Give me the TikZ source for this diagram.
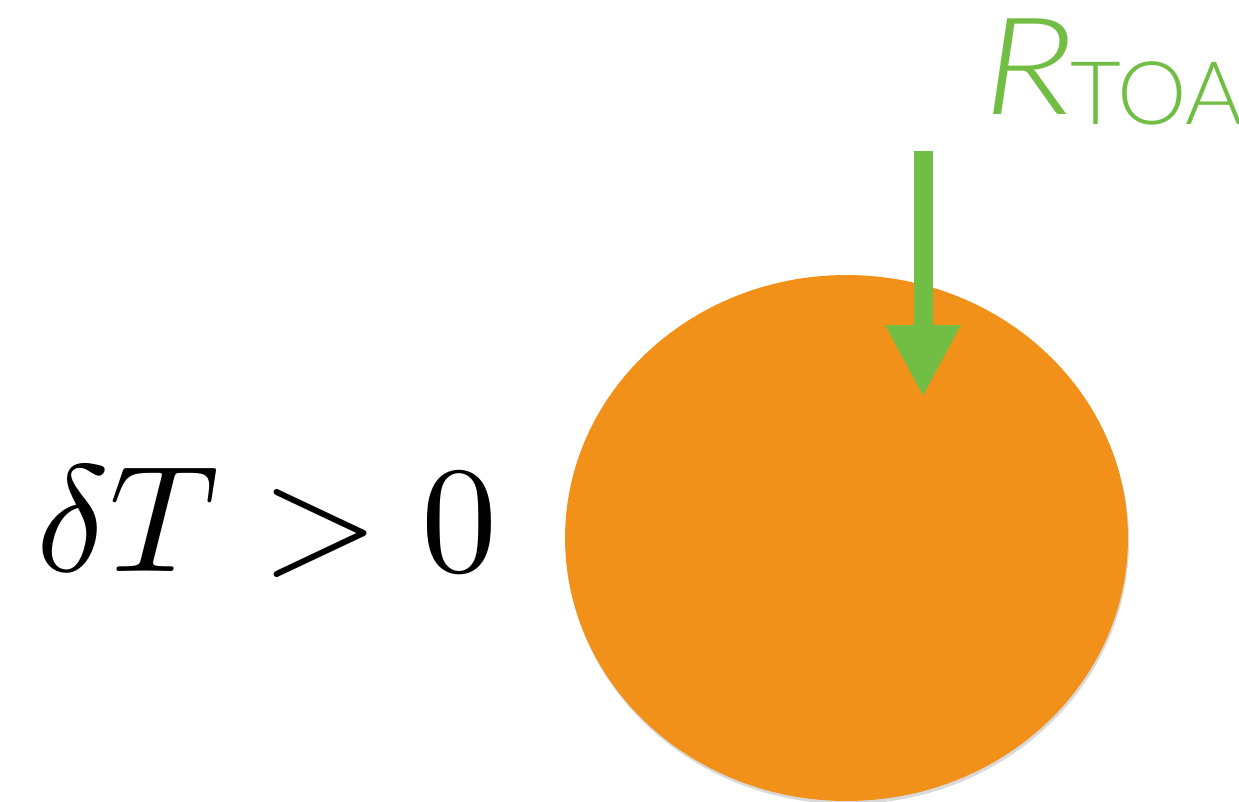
\documentclass[tikz,border=0pt]{standalone}
\usepackage{fontspec}
\newfontfamily\toafont{Lato Light}
\usetikzlibrary{arrows.meta,shapes.geometric,shadows}
\definecolor{planetorange}{RGB}{242,145,26}
\definecolor{fluxgreen}{RGB}{114,190,68}

\begin{document}
\begin{tikzpicture}[x=0.02cm,y=0.02cm]
  \useasboundingbox (0,0) rectangle (1239,801);

  % Planet disc with a soft shadow
  \node[ellipse,fill=planetorange,inner sep=0pt,
        minimum width=11.26cm,minimum height=10.52cm,
        drop shadow={shadow xshift=0.6pt,shadow yshift=-1.8pt,opacity=0.3}]
    (planet) at (846.5,263) {};

  % Temperature change label
  \node[anchor=base west,inner sep=0pt,scale=8.65]
    (dT) at (33,229) {$\delta T > 0$};

  % Incoming flux label (runs off the right edge)
  \node[anchor=base west,inner sep=0pt,text=fluxgreen,xscale=1.2,
        font=\toafont\fontsize{77}{80}\selectfont\itshape]
    (rflux) at (983,686) {R};
  \node[anchor=base west,inner sep=0pt,text=fluxgreen,
        font=\toafont\fontsize{50}{54}\selectfont]
    (toa) at (1070,676) {TOA};

  % Flux arrow into the planet
  \coordinate (fluxtop) at (923,650);
  \coordinate (fluxtip) at (923,404);
  \draw[fluxgreen,line width=0.38cm,
        -{Triangle[width=1.40cm,length=1.44cm]}] (fluxtop) -- (fluxtip);
\end{tikzpicture}
\end{document}
